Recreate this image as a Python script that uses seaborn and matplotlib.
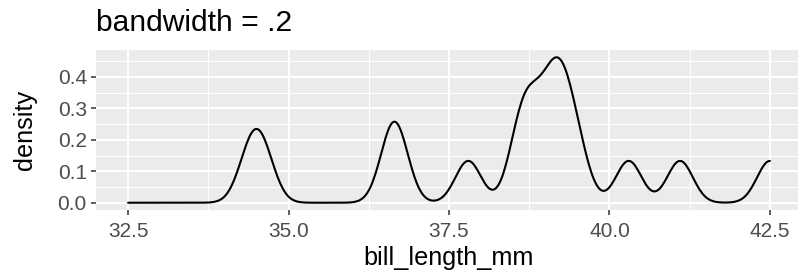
# bandwidth 0.2 density plot (ggplot look)

import numpy as np
import pandas as pd
import seaborn as sns
import matplotlib.pyplot as plt
from matplotlib.ticker import MultipleLocator, FormatStrFormatter

# bill lengths
bill_length_mm = [34.4, 34.6, 36.6, 36.7, 37.8, 38.6, 38.7, 38.9,
                  39.1, 39.2, 39.3, 39.5, 40.3, 41.1, 42.5]
x_ticks = [32.5, 35.0, 37.5, 40.0, 42.5]
y_ticks = [0.0, 0.1, 0.2, 0.3, 0.4]
bandwidth = 0.2

df = pd.DataFrame({"bill_length_mm": bill_length_mm})

sns.set_theme(style="darkgrid")
plt.rcParams["font.family"] = ["Liberation Sans", "DejaVu Sans"]

fig = plt.figure(figsize=(7.98, 2.76), dpi=100)
ax = fig.add_axes([96 / 798, 1 - 210 / 276, 706 / 798, 160 / 276])
ax.set_facecolor("#EBEBEB")

# scipy-style factor so that kernel sd == bandwidth
factor = bandwidth / np.std(df["bill_length_mm"], ddof=1)
sns.kdeplot(data=df, x="bill_length_mm", bw_method=factor, cut=20,
            clip=(32.5, 42.5), gridsize=512, color="black", lw=1.5, ax=ax)

ax.set_xlim(32.0, 43.0)
ymax = ax.lines[0].get_ydata().max()
ax.set_ylim(-0.05 * ymax, 1.05 * ymax)

ax.set_xticks(x_ticks)
ax.set_yticks(y_ticks)
ax.xaxis.set_major_formatter(FormatStrFormatter("%.1f"))
ax.yaxis.set_major_formatter(FormatStrFormatter("%.1f"))
ax.xaxis.set_minor_locator(MultipleLocator(1.25))
ax.yaxis.set_minor_locator(MultipleLocator(0.05))
ax.grid(which="major", color="white", lw=1.4)
ax.grid(which="minor", color="white", lw=0.7)
ax.set_axisbelow(True)
for s in ax.spines.values():
    s.set_visible(False)

ax.tick_params(axis="both", which="major", bottom=True, left=True,
               length=3.6, width=1.1, color="#333333",
               labelsize=15, labelcolor="#4D4D4D", pad=3)
ax.tick_params(axis="x", which="major", pad=5)
ax.tick_params(axis="both", which="minor", bottom=False, left=False)

ax.set_xlabel("bill_length_mm", fontsize=18.2, color="black", labelpad=4)
ax.set_ylabel("density", fontsize=18.2, color="black", labelpad=15)
ax.set_title("bandwidth = .2", loc="left", fontsize=21.6, color="black", pad=14)

fig.savefig("out.png", dpi=100)
